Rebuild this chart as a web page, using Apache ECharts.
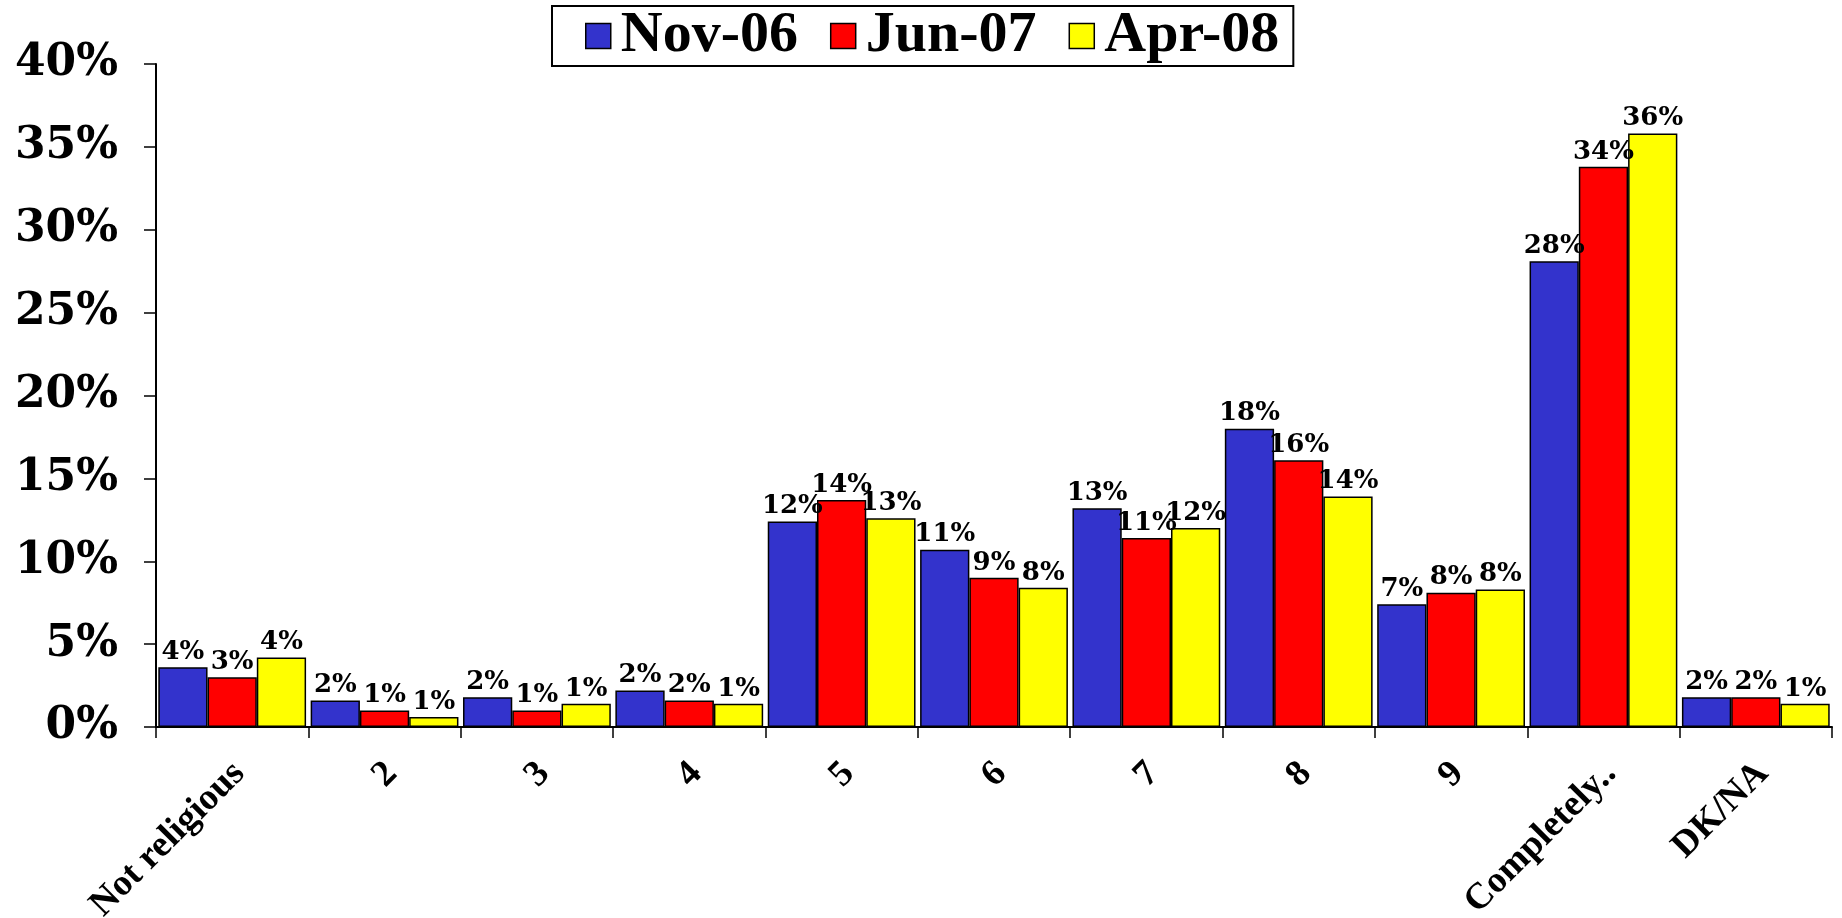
<!DOCTYPE html>
<html>
<head>
<meta charset="utf-8">
<title>Religiosity</title>
<script src="https://cdn.jsdelivr.net/npm/echarts@6/dist/echarts.min.js"></script>
<style>
  html, body { margin: 0; padding: 0; background: #fff; }
  #chart { width: 1842px; height: 918px; }
</style>
</head>
<body>
<div id="chart"></div>
<script type="text/javascript">
  // data (percent)
  var categories = ['Not religious', '2', '3', '4', '5', '6', '7', '8', '9', 'Completely..', 'DK/NA'];
  var seriesNames = ['Nov-06', 'Jun-07', 'Apr-08'];
  var nov06 = [3.6, 1.6, 1.8, 2.2, 12.4, 10.7, 13.2, 18.0, 7.4, 28.1, 1.8];
  var jun07 = [3.0, 1.0, 1.0, 1.6, 13.7, 9.0, 11.4, 16.1, 8.1, 33.8, 1.8];
  var apr08 = [4.2, 0.6, 1.4, 1.4, 12.6, 8.4, 12.0, 13.9, 8.3, 35.8, 1.4];
  var colors = ['#3333CC', '#FF0000', '#FFFF00'];

  var myChart = echarts.init(document.getElementById('chart'));

  function bar(name, data, color) {
    return {
      name: name,
      type: 'bar',
      data: data,
      barGap: '0%',
      barCategoryGap: '3%',
      itemStyle: { color: color, borderColor: '#000', borderWidth: 1.5 },
      label: {
        show: true,
        position: 'top',
        distance: 2,
        color: '#000',
        fontFamily: 'DejaVu Serif',
        fontWeight: 'bold',
        fontSize: 26,
        formatter: function (p) { return Math.round(p.value) + '%'; }
      }
    };
  }

  var option = {
    backgroundColor: '#fff',
    animation: false,
    color: colors,
    legend: {
      top: 6,
      left: 552,
      padding: [1, 14, 1, 33],
      borderColor: '#000',
      borderWidth: 2,
      itemWidth: 25,
      itemHeight: 25,
      itemGap: 32,
      icon: 'rect',
      itemStyle: { borderColor: '#000', borderWidth: 1.5 },
      textStyle: {
        fontFamily: 'Liberation Serif', fontWeight: 'bold', fontSize: 58, color: '#000',
        padding: [0, 0, 0, 5]
      },
      data: seriesNames
    },
    grid: { left: 156, right: 10, top: 64, bottom: 191, outerBoundsMode: 'none' },
    xAxis: {
      type: 'category',
      data: categories,
      axisLine: { lineStyle: { color: '#000', width: 2 } },
      axisTick: { show: true, length: 11, lineStyle: { color: '#000', width: 1.5 } },
      axisLabel: {
        rotate: 45,
        interval: 0,
        margin: 34,
        align: 'right',
        verticalAlign: 'top',
        lineHeight: 20,
        color: '#000',
        fontFamily: 'Liberation Serif',
        fontWeight: 'bold',
        fontSize: 37
      }
    },
    yAxis: {
      type: 'value',
      min: 0,
      max: 40,
      interval: 5,
      splitLine: { show: false },
      axisLine: { show: true, lineStyle: { color: '#000', width: 2 } },
      axisTick: { show: true, length: 12, lineStyle: { color: '#000', width: 1.5 } },
      axisLabel: {
        formatter: '{value}%',
        margin: 38,
        color: '#000',
        fontFamily: 'DejaVu Serif',
        fontWeight: 'bold',
        fontSize: 44
      }
    },
    series: [
      bar(seriesNames[0], nov06, colors[0]),
      bar(seriesNames[1], jun07, colors[1]),
      bar(seriesNames[2], apr08, colors[2])
    ]
  };
  myChart.setOption(option);
</script>
</body>
</html>
